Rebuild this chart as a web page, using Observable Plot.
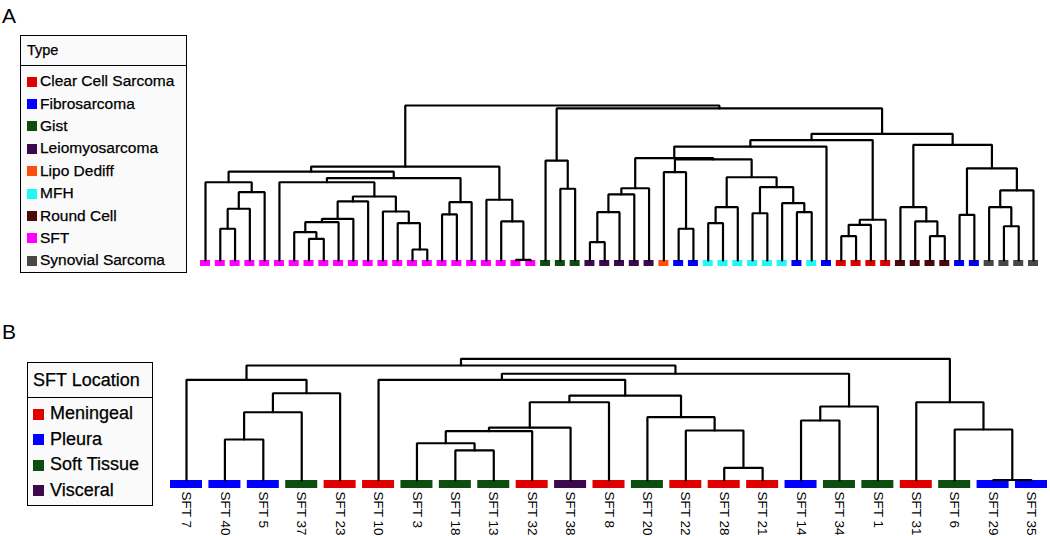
<!DOCTYPE html>
<html><head><meta charset="utf-8">
<script src="https://cdn.jsdelivr.net/npm/d3@7"></script>
<script src="https://cdn.jsdelivr.net/npm/@observablehq/plot@0.6"></script>
<style>
body{margin:0;background:#fff;font-family:"Liberation Sans",Arial,sans-serif;color:#000;}
#page{position:relative;width:1050px;height:536px;overflow:hidden;background:#fff;}
.panel{position:absolute;left:0;}
.tag{position:absolute;font-size:21px;line-height:1;}
.legend{position:absolute;border:1.5px solid #000;background:#fafafa;box-sizing:border-box;-webkit-text-stroke:0.25px #000;}
.legend .hdr{position:absolute;left:0;right:0;top:0;border-bottom:1.5px solid #000;box-sizing:border-box;}
.legend .row{position:absolute;left:0;white-space:nowrap;}
.legend .sw{position:absolute;}
</style></head>
<body><div id="page"></div>
<script>
// ---------- Panel A data ----------
const typeKeys = ["CCS","FIB","GIST","LMS","LIPO","MFH","RC","SFT","SS"];
const typeLabels = ["Clear Cell Sarcoma","Fibrosarcoma","Gist","Leiomyosarcoma","Lipo Dediff","MFH","Round Cell","SFT","Synovial Sarcoma"];
const typeColors = ["#e00000","#0000ff","#0d4d10","#3b0a4c","#ff4d0d","#22f7f7","#4a0b08","#ff00ff","#484848"];
const leafTypesA = [
  "SFT","SFT","SFT","SFT","SFT","SFT","SFT","SFT","SFT","SFT","SFT","SFT",
  "SFT","SFT","SFT","SFT","SFT","SFT","SFT","SFT","SFT","SFT","SFT",
  "GIST","GIST","GIST",
  "LMS","LMS","LMS","LMS","LMS",
  "LIPO","FIB","FIB",
  "MFH","MFH","MFH","MFH","MFH","MFH","FIB","MFH","FIB",
  "CCS","CCS","CCS","CCS",
  "RC","RC","RC","RC",
  "FIB","FIB",
  "SS","SS","SS","SS"
];
// merges: [node, child, child, height]  (numbers = leaf positions)
const mergesA = [
  ["a3",1,2,0.205],["a2","a3",3,0.334],["a1","a2",4,0.441],["aL1",0,"a1",0.505],
  ["aQ2",7,8,0.140],["aQ",6,"aQ2",0.183],["aP","aQ",9,0.247],["aR","aP",10,0.269],["aS","aR",11,0.381],
  ["aX",14,15,0.071],["aW",13,"aX",0.241],["aV",12,"aW",0.316],["aT","aS","aV",0.413],["aU",5,"aT",0.505],
  ["aZ",16,17,0.297],["aY","aZ",18,0.376],["aAA","aU","aY",0.532],["aLeft","aL1","aAA",0.574],
  ["aDD",21,22,0.004],["aCC",20,"aDD",0.252],["aBB",19,"aCC",0.392],["aPink","aLeft","aBB",0.606],
  ["g1",24,25,0.463],["gGreen",23,"g1",0.645],
  ["p1",26,27,0.118],["p2","p1",28,0.312],["p3","p2",29,0.426],["pPurple","p3",30,0.466],
  ["o1",32,33,0.205],["oOB",31,"o1",0.570],
  ["c1a",34,35,0.241],["c1","c1a",36,0.344],["c3",37,38,0.305],["c4a",40,41,0.312],["c4",39,"c4a",0.370],
  ["c2","c3","c4",0.473],["cy","c1","c2",0.537],
  ["m4","oOB","cy",0.652],["m3","pPurple","m4",0.660],["m2","m3",42,0.735],
  ["r1",43,44,0.157],["r2","r1",45,0.230],["rRed","r2",46,0.263],["mid","m2","rRed",0.777],
  ["b1",49,50,0.157],["b2",48,"b1",0.252],["bBrown",47,"b2",0.344],
  ["bl",51,52,0.295],["s1",54,55,0.221],["s2",53,"s1",0.344],["sGr","s2",56,0.452],
  ["r2b","bl","sGr",0.595],["rr","bBrown","r2b",0.746],["right","mid","rr",0.817],
  ["topR","gGreen","right",0.981],["root","aPink","topR",1.0]
];

// ---------- Panel B data ----------
const locKeys = ["Meningeal","Pleura","Soft Tissue","Visceral"];
const locColors = ["#e00000","#0000ff","#0d4d10","#3b0a4c"];
const leafNamesB = ["SFT 7","SFT 40","SFT 5","SFT 37","SFT 23","SFT 10","SFT 3","SFT 18","SFT 13","SFT 32","SFT 38","SFT 8",
  "SFT 20","SFT 22","SFT 28","SFT 21","SFT 14","SFT 34","SFT 1","SFT 31","SFT 6","SFT 29","SFT 35"];
const leafLocsB = ["Pleura","Pleura","Pleura","Soft Tissue","Meningeal","Meningeal","Soft Tissue","Soft Tissue","Soft Tissue","Meningeal","Visceral","Meningeal",
  "Soft Tissue","Meningeal","Meningeal","Meningeal","Pleura","Soft Tissue","Soft Tissue","Meningeal","Soft Tissue","Pleura","Pleura"];
const mergesB = [
  ["b1",1,2,0.337],["b2","b1",3,0.561],["b3","b2",4,0.717],["bLeft",0,"b3",0.827],
  ["x9a",7,8,0.247],["x9",6,"x9a",0.306],["x8","x9",9,0.405],["x7","x8",10,0.435],["x4","x7",11,0.643],
  ["x6a",14,15,0.104],["x6",13,"x6a",0.411],["x5",12,"x6",0.520],["x3","x4","x5",0.698],["x2",5,"x3",0.827],
  ["q1",16,17,0.493],["q2","q1",18,0.608],["r1","x2","q2",0.877],["n1","bLeft","r1",0.945],
  ["t1",21,22,0.004],["t2",20,"t1",0.419],["t3",19,"t2",0.643],["root","n1","t3",1.0]
];

// ---------- layout helper ----------
function elbows(merges){
  const nodes = new Map();
  const byName = new Map(merges.map(m => [m[0], m]));
  function get(id){
    if (typeof id === "number") return {x: id, h: 0};
    if (nodes.has(id)) return nodes.get(id);
    const [, a, b, h] = byName.get(id);
    const A = get(a), B = get(b);
    const n = {x: (A.x + B.x) / 2, h, A, B};
    nodes.set(id, n);
    return n;
  }
  const pts = [];
  for (const m of merges){
    const n = get(m[0]);
    pts.push({id: m[0], x: n.A.x, y: n.A.h}, {id: m[0], x: n.A.x, y: n.h},
             {id: m[0], x: n.B.x, y: n.h}, {id: m[0], x: n.B.x, y: n.B.h});
  }
  return pts;
}

const page = document.getElementById("page");

// ---------- Panel A chart ----------
const leavesA = leafTypesA.map((t, i) => ({i, type: t}));
const pxA = (1033 - 205) / (leafTypesA.length - 1);
const hwA = 5 / pxA;
const chartA = Plot.plot({
  width: 1050, height: 285, margin: 0,
  x: {domain: [0, leafTypesA.length - 1], range: [205, 1033], axis: null},
  y: {domain: [0, 1], range: [260, 105], axis: null},
  color: {domain: typeKeys, range: typeColors},
  style: {background: "transparent", overflow: "visible"},
  marks: [
    Plot.rect(leavesA, {x1: d => d.i - hwA, x2: d => d.i + hwA, y1: 0, y2: -6 / 155, fill: "type"}),
    Plot.line(elbows(mergesA), {x: "x", y: "y", z: "id", stroke: "#000", strokeWidth: 2.2, strokeLinejoin: "miter"})
  ]
});
chartA.classList.add("panel");
chartA.style.top = "0px";
page.appendChild(chartA);

// ---------- Panel B chart ----------
const leavesB = leafNamesB.map((n, i) => ({i, name: n, loc: leafLocsB[i]}));
const pxB = (1031 - 186) / (leafNamesB.length - 1);
const hwB = 16 / pxB;
const chartB = Plot.plot({
  width: 1050, height: 246, margin: 0,
  x: {domain: [0, leafNamesB.length - 1], range: [186, 1031], axis: null},
  y: {domain: [0, 1], range: [190, 68.3], axis: null},
  color: {domain: locKeys, range: locColors},
  style: {background: "transparent", overflow: "visible"},
  marks: [
    Plot.rect(leavesB, {x1: d => d.i - hwB, x2: d => d.i + hwB, y1: 0, y2: -8 / 121.7, fill: "loc"}),
    Plot.line(elbows(mergesB), {x: "x", y: "y", z: "id", stroke: "#000", strokeWidth: 2.2, strokeLinejoin: "miter"}),
    Plot.text(leavesB, {x: "i", y: 0, text: "name", rotate: 90, textAnchor: "start", lineAnchor: "middle",
      dy: 11, fontSize: 13.5, fill: "#000", fontFamily: "Liberation Sans, Arial, sans-serif"})
  ]
});
chartB.classList.add("panel");
chartB.style.top = "290px";
page.appendChild(chartB);

// ---------- tags ----------
function tag(txt, left, top){
  const d = document.createElement("div");
  d.className = "tag"; d.textContent = txt;
  d.style.left = left + "px"; d.style.top = top + "px";
  page.appendChild(d);
}
tag("A", 2, 5);
tag("B", 2, 321);

// ---------- legends ----------
function legend(opts){
  const box = document.createElement("div");
  box.className = "legend";
  Object.assign(box.style, {left: opts.left + "px", top: opts.top + "px", width: opts.width + "px", height: opts.height + "px"});
  const hdr = document.createElement("div");
  hdr.className = "hdr";
  Object.assign(hdr.style, {height: opts.hdrH + "px", lineHeight: (opts.hdrH - 1) + "px", paddingLeft: opts.pad + "px", fontSize: opts.hdrFont + "px"});
  hdr.textContent = opts.title;
  box.appendChild(hdr);
  opts.labels.forEach((lab, k) => {
    const cy = opts.row0 + k * opts.rowStep;
    const sw = document.createElement("div");
    sw.className = "sw";
    Object.assign(sw.style, {left: opts.swX + "px", top: (cy - opts.sw / 2) + "px", width: opts.sw + "px", height: opts.sw + "px", background: opts.colors[k]});
    box.appendChild(sw);
    const row = document.createElement("div");
    row.className = "row";
    Object.assign(row.style, {left: opts.textX + "px", top: (cy - opts.font * 0.6) + "px", fontSize: opts.font + "px", lineHeight: (opts.font * 1.2) + "px"});
    row.textContent = lab;
    box.appendChild(row);
  });
  page.appendChild(box);
}
legend({title: "Type", labels: typeLabels, colors: typeColors,
  left: 20, top: 35, width: 167, height: 238, hdrH: 30, hdrFont: 14.5, pad: 6,
  row0: 45.5, rowStep: 22.4, sw: 10, swX: 6, textX: 19, font: 15.5});
legend({title: "SFT Location", labels: locKeys, colors: locColors,
  left: 27, top: 362, width: 126, height: 144, hdrH: 35, hdrFont: 18, pad: 5,
  row0: 51, rowStep: 25.6, sw: 11, swX: 5, textX: 22, font: 18});
</script>
</body></html>
